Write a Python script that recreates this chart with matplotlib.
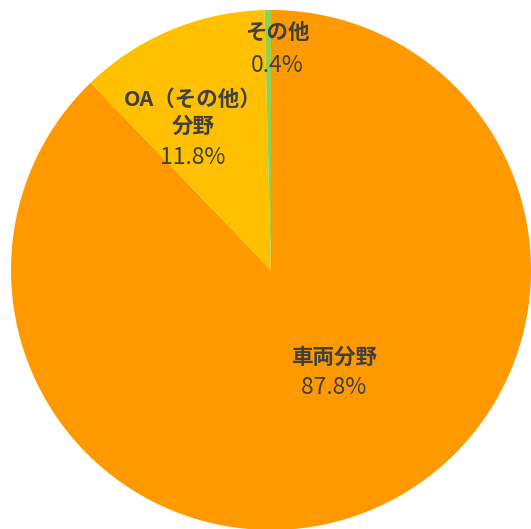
import matplotlib
matplotlib.use("Agg")
import matplotlib.pyplot as plt

plt.rcParams['font.family'] = ['Noto Sans CJK JP', 'DejaVu Sans']

categories = ["車両分野", "OA（その他）\n分野", "その他"]
values = [87.8, 11.8, 0.4]
colors = ["#FF9900", "#FFC000", "#92D050"]

# label anchor positions in pixels (x, y of name line center, y of pct line center)
label_px = [(334, 357, 388), (193, 113, 158), (277, 32, 66)]

W, H = 531, 529
fig = plt.figure(figsize=(W / 100, H / 100), dpi=100)
cx, cy, r = 271, 270, 260
ax = fig.add_axes([(cx - r) / W, (H - cy - r) / H, 2 * r / W, 2 * r / H])
ax.pie(values, colors=colors, startangle=90, counterclock=False, radius=1,
       wedgeprops=dict(linewidth=0))
ax.set_xlim(-1, 1)
ax.set_ylim(-1, 1)
ax.set_aspect('equal')
ax.axis('off')

def to_data(px, py):
    return (px - cx) / r, (cy - py) / r

for name, val, (px, py1, py2) in zip(categories, values, label_px):
    x, y1 = to_data(px, py1)
    _, y2 = to_data(px, py2)
    ax.text(x, y1, name, ha='center', va='center', fontsize=15.5, fontweight='bold',
            color='#404040', linespacing=1.35)
    ax.text(x, y2, f"{val:.1f}%", ha='center', va='center', fontsize=16.5,
            color='#404040')

fig.savefig("out.png", dpi=100)
